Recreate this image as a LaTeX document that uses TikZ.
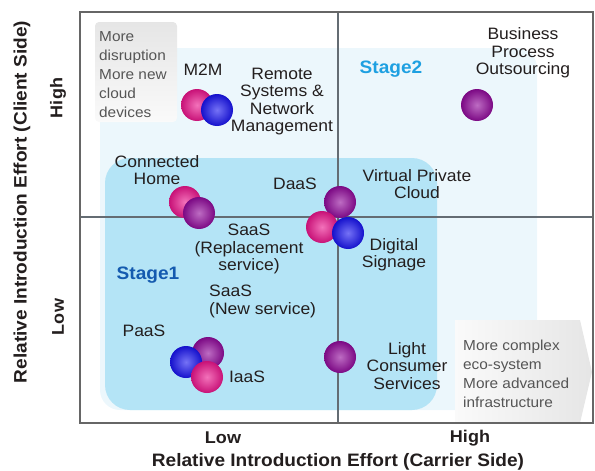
\documentclass[tikz,border=0pt]{standalone}
\usepackage{fontspec}
\setmainfont{Liberation Sans}[FakeStretch=1.06]
\usepackage{tikz}

\definecolor{stageone}{RGB}{180,228,246}
\definecolor{stagetwo}{RGB}{236,247,252}
\definecolor{pinkball}{RGB}{235,20,140}
\definecolor{purpleball}{RGB}{145,10,155}
\definecolor{blueball}{RGB}{25,20,240}
\definecolor{labeltext}{RGB}{35,30,30}
\definecolor{notetext}{RGB}{85,85,85}
\definecolor{gridline}{RGB}{100,108,115}
\definecolor{stageonetext}{RGB}{20,90,175}
\definecolor{stagetwotext}{RGB}{30,160,225}

\begin{document}
\begin{tikzpicture}[x=1pt, y=-1pt,
    bubble/.style={circle, shade, minimum size=32pt, inner sep=0pt, inner color=#1!60!white, outer color=#1!85!black},
    lbl/.style={font=\fontsize{16.5}{17.5}\selectfont, align=center, text=labeltext, inner sep=0pt},
    note/.style={font=\fontsize{14.5}{19}\selectfont, align=left, text=notetext, inner sep=0pt},
    stagelbl/.style={font=\bfseries\fontsize{18}{20}\selectfont, inner sep=0pt},
    axis/.style={font=\bfseries\fontsize{17}{19}\selectfont, text=labeltext, inner sep=0pt}]
        \useasboundingbox (0,0) rectangle (595,471);

        % Stage areas
        \fill[stagetwo, rounded corners=20pt] (100,48) rectangle (537,410);
        \fill[stageone, rounded corners=25pt] (105,158) rectangle (437,410);

        % Grey notes behind text
        \shade[top color=black!10, bottom color=black!2, rounded corners=4pt] (95,22) rectangle (177,122);
        \shade[left color=black!2, right color=black!10] (455,320) -- (580,320) -- (592,372) -- (580,423) -- (455,423) -- cycle;

        % Quadrant lines and frame
        \draw[gridline, line width=1.5pt] (338,12) -- (338,423);
        \draw[gridline, line width=1.5pt] (80,217) -- (593,217);
        \draw[black!60, line width=2pt] (80,12) rectangle (593,423);

        % Bubbles
        \node[bubble=pinkball] (m2ma) at (197,105) {};
        \node[bubble=blueball] (m2mb) at (217,110) {};
        \node[bubble=pinkball] (homea) at (185,202) {};
        \node[bubble=purpleball] (homeb) at (199,213) {};
        \node[bubble=purpleball] (daas) at (340,202) {};
        \node[bubble=pinkball] (saasr) at (322,227) {};
        \node[bubble=blueball] (sign) at (348,233) {};
        \node[bubble=purpleball] (bpo) at (477,105) {};
        \node[bubble=purpleball] (paasa) at (208,353) {};
        \node[bubble=blueball] (paasb) at (186,362) {};
        \node[bubble=pinkball] (iaas) at (207,377) {};
        \node[bubble=purpleball] (light) at (340,357) {};

        % Labels
        \node[lbl] (m2mlbl) at (203,70) {M2M};
        \node[lbl] (remotelbl) at (282,101.5) {Remote\\Systems \&\\Network\\Management};
        \node[lbl] (homelbl) at (157,170) {Connected\\Home};
        \node[lbl] (daaslbl) at (295,184) {DaaS};
        \node[lbl] (vpclbl) at (417,184) {Virtual Private\\Cloud};
        \node[lbl] (bpolbl) at (523,53) {Business\\Process\\Outsourcing};
        \node[lbl] (saasrlbl) at (249,249) {SaaS\\(Replacement\\service)};
        \node[lbl, align=left, anchor=west] (saasnlbl) at (209,301.5) {SaaS\\(New service)};
        \node[lbl] (paaslbl) at (144,331) {PaaS};
        \node[lbl] (iaaslbl) at (247,377) {IaaS};
        \node[lbl] (signlbl) at (394,254.5) {Digital\\Signage};
        \node[lbl] (lightlbl) at (407,366) {Light\\Consumer\\Services};

        % Stage names
        \node[stagelbl, text=stageonetext] (stage1) at (148,275) {Stage1};
        \node[stagelbl, text=stagetwotext] (stage2) at (391,69) {Stage2};

        % Notes
        \node[note, anchor=west] (disrupt) at (99,75) {More\\disruption\\More new\\cloud\\devices};
        \node[note, anchor=west] (complex) at (463,373.5) {More complex\\eco-system\\More advanced\\infrastructure};

        % Axes
        \node[axis] (xlow) at (223,438) {Low};
        \node[axis] (xhigh) at (470,438) {High};
        \node[axis, font=\bfseries\fontsize{18}{20}\selectfont] (xtitle) at (338,462) {Relative Introduction Effort (Carrier Side)};
        \node[axis, rotate=90] (yhigh) at (58,98) {High};
        \node[axis, rotate=90] (ylow) at (58,317) {Low};
        \node[axis, rotate=90, font=\bfseries\fontsize{18}{20}\selectfont] (ytitle) at (22,202) {Relative Introduction Effort (Client Side)};
    \end{tikzpicture}
\end{document}
